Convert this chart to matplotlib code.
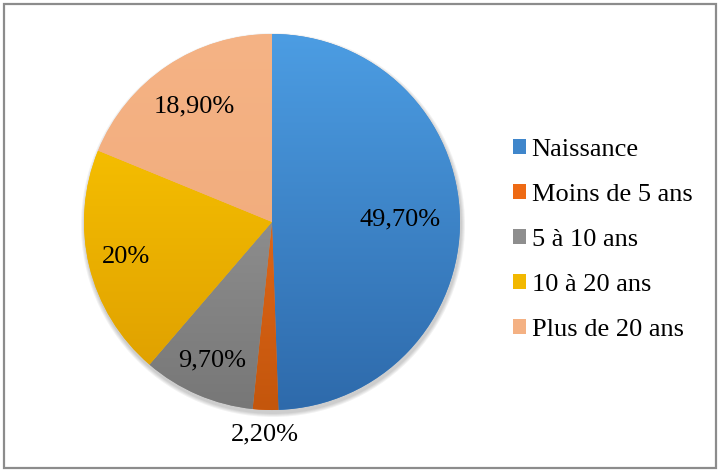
import matplotlib.pyplot as plt
import numpy as np
from matplotlib.patches import Patch, Rectangle, Circle
from matplotlib.colors import LinearSegmentedColormap

plt.rcParams['font.family'] = ['Liberation Serif', 'DejaVu Serif']

categories = ['Naissance', 'Moins de 5 ans', '5 à 10 ans', '10 à 20 ans', 'Plus de 20 ans']
values = [49.7, 2.2, 9.7, 20.0, 18.9]
labels = ['49,70%', '2,20%', '9,70%', '20%', '18,90%']
# gradient colours (top, bottom) like the Excel fill
tops = ['#4C9DE3', '#F57525', '#A3A3A3', '#FFCC00', '#F5B385']
bottoms = ['#2E6AAB', '#C4560C', '#777777', '#DC9C00', '#EFA877']
legend_colors = ['#3F86CB', '#EE6A14', '#8E8E8E', '#F2B800', '#F4B183']
label_dist = [0.68, 1.13, 0.80, 0.80, 0.74]

fig = plt.figure(figsize=(7.19, 4.71), dpi=100)
ax = fig.add_axes([0, 0, 1, 1])

cx, cy, r = 272, 249, 188

# soft shadow
for i in range(4):
    ax.add_patch(Circle((cx + 1, cy - 3), r + 1 + i, color='black', alpha=0.05, lw=0, zorder=1))

wedges, _ = ax.pie(values, center=(cx, cy), radius=r, startangle=90, counterclock=False,
                   colors=legend_colors, wedgeprops=dict(linewidth=0), frame=True)

# outer frame
ax.add_patch(Rectangle((3.5, 3.5), 712, 464, fill=False, edgecolor='#8c8c8c', lw=1.6))

for w, t, b in zip(wedges, tops, bottoms):
    cmap = LinearSegmentedColormap.from_list('g', [b, t])
    grad = np.linspace(0, 1, 256).reshape(-1, 1)
    im = ax.imshow(grad, cmap=cmap, origin='lower', extent=(cx - r, cx + r, cy - r, cy + r),
                   aspect='auto', zorder=3)
    im.set_clip_path(w)
    w.set_zorder(2)
ax.set_xlim(0, 719)
ax.set_ylim(0, 471)
ax.set_aspect('equal')
ax.axis('off')

for w, lab, d in zip(wedges, labels, label_dist):
    ang = np.deg2rad((w.theta1 + w.theta2) / 2)
    ax.text(cx + d * r * np.cos(ang), cy + d * r * np.sin(ang), lab, fontsize=19,
            ha='center', va='center', zorder=5)

handles = [Patch(facecolor=c, edgecolor='none') for c in legend_colors]
ax.legend(handles, categories, loc='center left', bbox_to_anchor=(0.68, 0.49), frameon=False,
          fontsize=19, handlelength=0.5, handleheight=0.5, handletextpad=0.22, labelspacing=0.87)

fig.savefig('out.png', dpi=100)
